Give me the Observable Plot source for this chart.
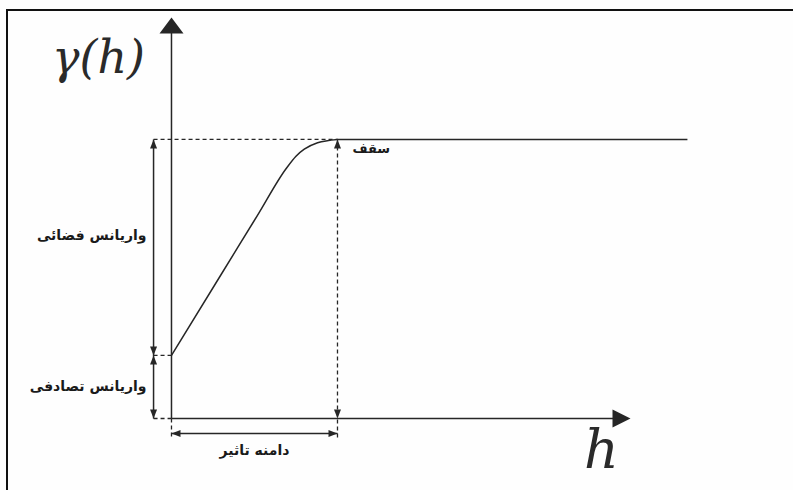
<!DOCTYPE html>
<html>
<head>
<meta charset="utf-8">
<script src="https://cdn.jsdelivr.net/npm/d3@7"></script>
<script src="https://cdn.jsdelivr.net/npm/@observablehq/plot@0.6"></script>
<style>
  html, body { margin: 0; padding: 0; background: #fefefe; }
  #wrap { position: relative; width: 793px; height: 490px; overflow: hidden; background: #fefefe; }
  #frame { position: absolute; left: 6px; top: 9px; right: -10px; bottom: -10px;
           border-top: 2px solid #111; border-left: 2px solid #111; pointer-events: none; }
  svg text.gam { letter-spacing: 7px; }
</style>
</head>
<body>
<div id="wrap"><div id="frame"></div></div>
<script>
// ---- data (semivariogram, abstract units: range = 1, sill = 1) ----
const hValues     = [0, 0.30, 0.518, 0.69, 0.75, 0.80, 0.88, 1.0];
const gammaValues = [0.226, 0.517, 0.728, 0.895, 0.940, 0.965, 0.988, 1.0];
const nugget = 0.226;
const sill = 1.0;
const range = 1.0;
const hMax = 2.765;       // end of the h axis
const gammaMax = 1.437;   // end of the gamma axis
const sillEnd = 3.108;    // end of the sill line
const labels = {
  spatial: "واریانس فضائی",
  random: "واریانس تصادفی",
  range: "دامنه تاثیر",
  sill: "سقف",
  yTitle: "γ(h)",
  xTitle: "h"
};

const curve = hValues.map((h, i) => ({h, g: gammaValues[i]}));

// layout offsets in data units
const dimX = -0.108;      // left dimension line
const rangeDimY = -0.054; // range dimension line
const tickBottom = -0.072;

const solid = [
  {x1: 0, y1: 0, x2: 0, y2: gammaMax - 0.05},
  {x1: 0, y1: 0, x2: hMax - 0.05, y2: 0},
  {x1: range, y1: sill, x2: sillEnd, y2: sill},
  {x1: dimX, y1: 0, x2: dimX, y2: sill},
  {x1: 0, y1: rangeDimY, x2: range, y2: rangeDimY}
];
const dashed = [
  {x1: dimX, y1: sill, x2: range, y2: sill},
  {x1: range, y1: sill, x2: range, y2: tickBottom},
  {x1: 0, y1: 0, x2: 0, y2: tickBottom},
  {x1: dimX, y1: nugget, x2: 0, y2: nugget},
  {x1: dimX, y1: 0, x2: 0, y2: 0}
];

function arrowSym(w, l) {
  return { draw(ctx) { ctx.moveTo(0, 0); ctx.lineTo(-w / 2, l); ctx.lineTo(w / 2, l); ctx.closePath(); } };
}
const smallHeads = [
  {x: dimX, y: sill, rot: 0},
  {x: dimX, y: nugget, rot: 180},
  {x: dimX, y: nugget, rot: 0},
  {x: dimX, y: 0, rot: 180},
  {x: range, y: sill, rot: 0},
  {x: range, y: 0, rot: 180},
  {x: 0, y: rangeDimY, rot: 270},
  {x: range, y: rangeDimY, rot: 90}
];

const ink = "#262626";
const arabic = {fontFamily: "DejaVu Sans", fontWeight: "bold", fontSize: 14, fill: "#1a1a1a"};
const chart = Plot.plot({
  width: 793,
  height: 490,
  margin: 0,
  x: {domain: [-1.030, 3.747], axis: null},
  y: {domain: [-0.258, 1.498], axis: null},
  marks: [
    Plot.link(solid, {x1: "x1", y1: "y1", x2: "x2", y2: "y2", stroke: ink, strokeWidth: 1.5}),
    Plot.link(dashed, {x1: "x1", y1: "y1", x2: "x2", y2: "y2", stroke: ink, strokeWidth: 1.3, strokeDasharray: "4,3"}),
    Plot.line(curve, {x: "h", y: "g", curve: "monotone-x", stroke: ink, strokeWidth: 1.5}),
    Plot.dot([{x: 0, y: gammaMax}], {x: "x", y: "y", symbol: arrowSym(24, 16), fill: ink, stroke: null}),
    Plot.dot([{x: hMax, y: 0, rot: 90}], {x: "x", y: "y", rotate: "rot", symbol: arrowSym(18, 18), fill: ink, stroke: null}),
    Plot.dot(smallHeads, {x: "x", y: "y", rotate: "rot", symbol: arrowSym(7, 9), fill: ink, stroke: null}),
    Plot.text([labels.spatial], {x: () => dimX, y: () => 0.656, text: d => d, dx: -7, textAnchor: "end", ...arabic}),
    Plot.text([labels.random], {x: () => dimX, y: () => nugget / 2, text: d => d, dx: -7, textAnchor: "end", ...arabic}),
    Plot.text([labels.range], {x: () => range / 2, y: () => -0.115, text: d => d, textAnchor: "middle", ...arabic}),
    Plot.text([labels.sill], {x: () => range, y: () => sill, text: d => d, dx: 15, dy: 9, textAnchor: "start", ...arabic, fontSize: 13}),
    Plot.text([labels.yTitle], {x: () => -0.44, y: () => 1.29, text: d => d, textAnchor: "middle",
      fontFamily: "DejaVu Serif", fontStyle: "italic", fontSize: 46, fill: "#2a2a2a", className: "gam"}),
    Plot.text([labels.xTitle], {x: () => 2.59, y: () => -0.115, text: d => d, textAnchor: "middle",
      fontFamily: "DejaVu Serif", fontStyle: "italic", fontSize: 54, fill: "#2a2a2a"})
  ]
});
chart.style.background = "transparent";
chart.style.position = "absolute";
chart.style.left = "0";
chart.style.top = "0";
document.getElementById("wrap").prepend(chart);
</script>
</body>
</html>
